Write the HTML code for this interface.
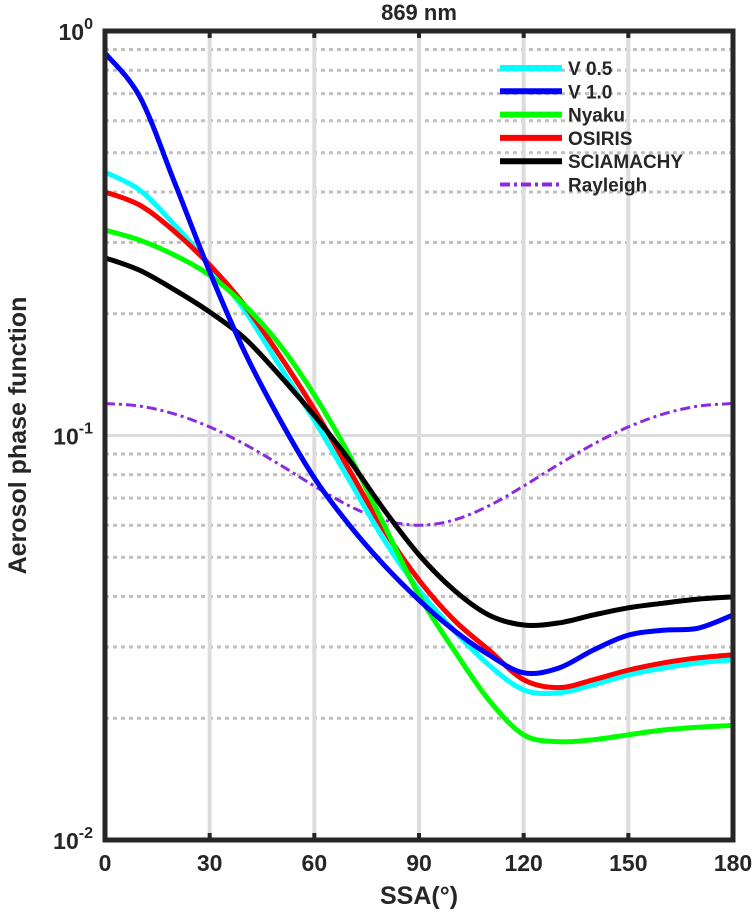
<!DOCTYPE html>
<html><head><meta charset="utf-8"><style>
body{margin:0;background:#fff}
svg text{font-family:"Liberation Sans",sans-serif;font-weight:bold;fill:#262626}
</style></head><body>
<svg id="c" width="756" height="911" xmlns="http://www.w3.org/2000/svg"></svg>
<script>
const angles=[0,10,20,30,40,50,60,70,80,90,100,110,120,130,140,150,160,170,180];
const v10=[0.882,0.687,0.421,0.254,0.161,0.110,0.0785,0.0601,0.0478,0.0392,0.0330,0.0287,0.0259,0.0266,0.0295,0.0321,0.0330,0.0334,0.0360];
const v05=[0.448,0.404,0.331,0.264,0.204,0.149,0.109,0.0776,0.0552,0.0415,0.0330,0.0271,0.0235,0.0231,0.0242,0.0256,0.0266,0.0274,0.0279];
const osiris=[0.400,0.371,0.319,0.264,0.210,0.158,0.116,0.0822,0.0584,0.0439,0.0350,0.0295,0.0249,0.0238,0.0249,0.0263,0.0274,0.0282,0.0287];
const nyaku=[0.322,0.304,0.279,0.249,0.210,0.168,0.126,0.0895,0.0601,0.0403,0.0295,0.0222,0.0182,0.0175,0.0177,0.0182,0.0187,0.0190,0.0192];
const scia=[0.275,0.256,0.229,0.202,0.174,0.141,0.112,0.0870,0.0655,0.0507,0.0415,0.0360,0.0340,0.0344,0.0360,0.0375,0.0385,0.0394,0.0399];
const rayleigh=[0.120,0.1182,0.1130,0.105,0.0952,0.0848,0.075,0.0670,0.0618,0.060,0.0618,0.0670,0.075,0.0848,0.0952,0.105,0.1130,0.1182,0.120];
const xTicks=[0,30,60,90,120,150,180];
const seriesNames=["V 0.5","V 1.0","Nyaku","OSIRIS","SCIAMACHY","Rayleigh"];

const L=105,R=733,T=31,B=840;
const X=a=>L+(a/180)*(R-L);
const Y=v=>T+(-Math.log10(v))*((B-T)/2);
const svg=document.getElementById('c');
const NS="http://www.w3.org/2000/svg";
function mk(tag,attrs,parent){const e=document.createElementNS(NS,tag);for(const k in attrs)e.setAttribute(k,attrs[k]);(parent||svg).appendChild(e);return e;}

for(let d=0;d<2;d++)for(let m=2;m<=9;m++){
  const y=Y(m*Math.pow(10,-2+d));
  const g=mk('line',{x1:L,x2:R,y1:y,y2:y,stroke:'#c0c0c0','stroke-width':3,'stroke-dasharray':'4 4'});
  
  
}
{const y=Y(0.1);const g=mk('line',{x1:L,x2:R,y1:y,y2:y,stroke:'#dcdcdc','stroke-width':3});

}
xTicks.forEach(t=>{
  const x=X(t);
  if(t>0&&t<180){const g=mk('line',{x1:x,x2:x,y1:T,y2:B,stroke:'#dcdcdc','stroke-width':4});
  
  
  mk('line',{x1:x,x2:x,y1:B,y2:B-7,stroke:'#262626','stroke-width':4});
  mk('line',{x1:x,x2:x,y1:T,y2:T+7,stroke:'#262626','stroke-width':4});}
  const tx=mk('text',{x:x,y:B+31,'text-anchor':'middle','font-size':23});
  tx.textContent=t;
  
  
});

function path(vals){
  const p=angles.map((a,i)=>[X(a),Y(vals[i])]);
  let d=`M${p[0][0]},${p[0][1]}`;
  for(let i=0;i<p.length-1;i++){
    const p0=p[Math.max(0,i-1)],p1=p[i],p2=p[i+1],p3=p[Math.min(p.length-1,i+2)];
    const c1=[p1[0]+(p2[0]-p0[0])/6,p1[1]+(p2[1]-p0[1])/6];
    const c2=[p2[0]-(p3[0]-p1[0])/6,p2[1]-(p3[1]-p1[1])/6];
    d+=`C${c1[0]},${c1[1]} ${c2[0]},${c2[1]} ${p2[0]},${p2[1]}`;
  }
  return d;
}
const clip=mk('clipPath',{id:'cp'});mk('rect',{x:L,y:T,width:R-L,height:B-T},clip);
const series=[[v05,'#00ffff',5,null,'series-v05'],[v10,'#0000ff',5,null,'series-v10'],[nyaku,'#00ff00',5,null,'series-nyaku'],[osiris,'#ff0000',5,null,'series-osiris'],[scia,'#000000',5,null,'series-sciamachy'],[rayleigh,'#8a2be2',3,'10 4 3 4','series-rayleigh']];
const order=[5,0,3,2,4,1];
order.forEach(i=>{const s=series[i];
  const e=mk('path',{d:path(s[0]),fill:'none',stroke:s[1],'stroke-width':s[2],'clip-path':'url(#cp)'});
  if(s[3])e.setAttribute('stroke-dasharray',s[3]);
  
  
});

const bx=mk('rect',{x:L,y:T,width:R-L,height:B-T,fill:'none',stroke:'#262626','stroke-width':5});


[[0,'0'],[1,'-1'],[2,'-2']].forEach(([d,e])=>{
  const y=Y(Math.pow(10,-d));
  const t=mk('text',{x:L-12,y:y+9,'text-anchor':'end','font-size':23});
  t.innerHTML=`10<tspan font-size="16" dy="-11">${e}</tspan>`;
  
  
});
const tt=mk('text',{x:(L+R)/2,y:20,'text-anchor':'middle','font-size':22});tt.textContent='869 nm';


const xl=mk('text',{x:(L+R)/2,y:904,'text-anchor':'middle','font-size':25});xl.textContent='SSA(°)';


const yl=mk('text',{x:0,y:0,'text-anchor':'middle','font-size':25,transform:`translate(26,${(T+B)/2}) rotate(-90)`});yl.textContent='Aerosol phase function';



seriesNames.forEach((n,i)=>{
  const s=series[i];const y=68+i*23.3;
  const g=mk('g',{});
  
  
  const ln=mk('line',{x1:500,x2:562,y1:y,y2:y,stroke:s[1],'stroke-width':s[2]+1},g);
  if(s[3])ln.setAttribute('stroke-dasharray',s[3]);
  const t=mk('text',{x:568,y:y+7,'font-size':19},g);t.textContent=n;
});
</script>
</body></html>
